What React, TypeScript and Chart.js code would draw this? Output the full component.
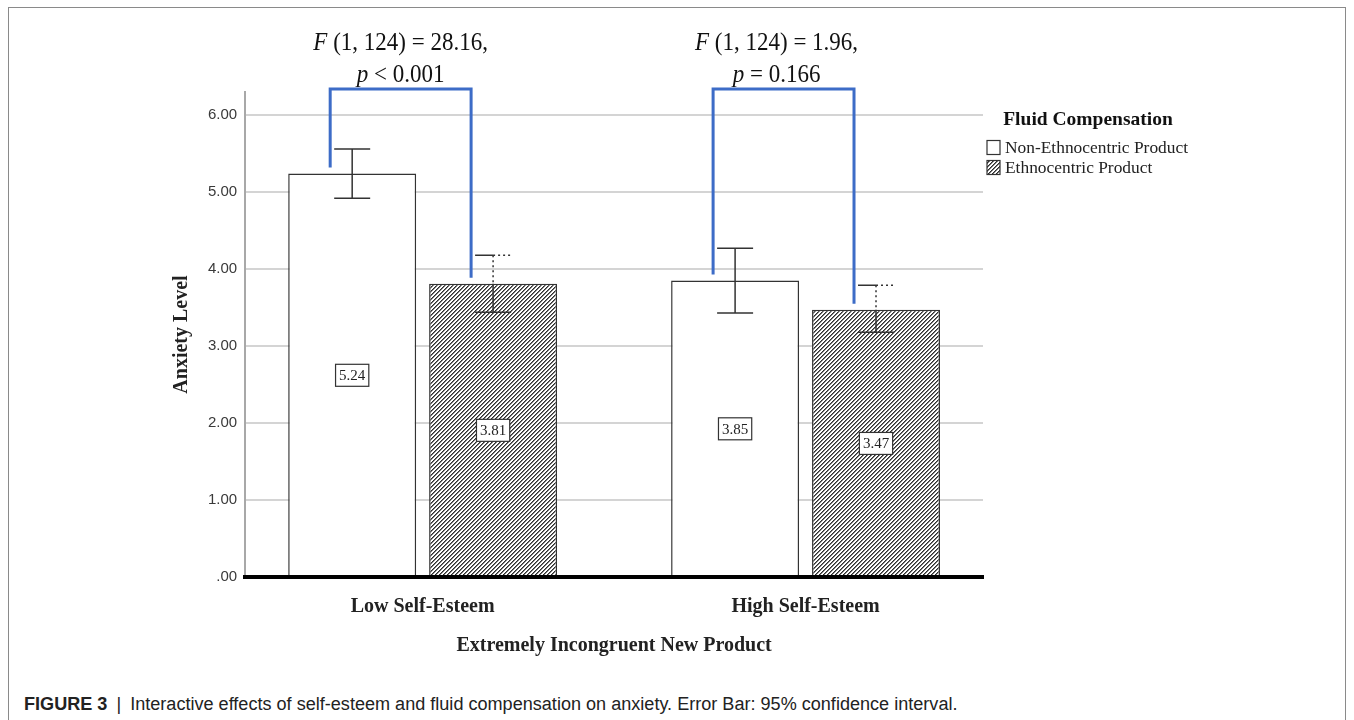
import React, { useEffect, useRef } from 'react';
import { Chart, registerables } from 'chart.js';

Chart.register(...registerables);

// ---------- data ----------
const categories = ['Low Self-Esteem', 'High Self-Esteem'];
const seriesNames = ['Non-Ethnocentric Product', 'Ethnocentric Product'];
const nonEthnoMeans = [5.24, 3.85];
const ethnoMeans = [3.81, 3.47];
const nonEthnoLow = [4.92, 3.43];
const nonEthnoHigh = [5.56, 4.27];
const ethnoLow = [3.44, 3.18];
const ethnoHigh = [4.18, 3.79];
const yTickValues = [0, 1, 2, 3, 4, 5, 6];
const yTickLabels = ['.00', '1.00', '2.00', '3.00', '4.00', '5.00', '6.00'];
const fStatLabels = [' (1, 124) = 28.16,', ' (1, 124) = 1.96,'];
const pStatLabels = [' < 0.001', ' = 0.166'];
const legendTitle = 'Fluid Compensation';
const xTitle = 'Extremely Incongruent New Product';
const yTitle = 'Anxiety Level';

const meansBySeries = [nonEthnoMeans, ethnoMeans];
const lowBySeries = [nonEthnoLow, ethnoLow];
const highBySeries = [nonEthnoHigh, ethnoHigh];

const SERIF = '"Liberation Serif", "Times New Roman", serif';
const SANS = '"Liberation Sans", Arial, sans-serif';

function makeHatch(ctx: CanvasRenderingContext2D) {
  const c = document.createElement('canvas');
  c.width = 4;
  c.height = 4;
  const p = c.getContext('2d')!;
  p.fillStyle = '#ffffff';
  p.fillRect(0, 0, 4, 4);
  for (let x = 0; x < 4; x++) {
    for (let y = 0; y < 4; y++) {
      const m = (x + y) % 4;
      if (m === 0) {
        p.fillStyle = '#2e2e2e';
        p.fillRect(x, y, 1, 1);
      } else if (m === 1) {
        p.fillStyle = '#7a7a7a';
        p.fillRect(x, y, 1, 1);
      }
    }
  }
  return ctx.createPattern(c, 'repeat') as CanvasPattern;
}

function drawParts(
  ctx: CanvasRenderingContext2D,
  parts: [string, string][],
  cx: number,
  cy: number,
  sx: number,
) {
  let total = 0;
  const widths = parts.map(([t, f]) => {
    ctx.font = f;
    const w = ctx.measureText(t).width;
    total += w;
    return w;
  });
  ctx.save();
  ctx.translate(cx, cy);
  ctx.scale(sx, 1);
  let x = -total / 2;
  ctx.textBaseline = 'middle';
  ctx.textAlign = 'left';
  parts.forEach(([t, f], i) => {
    ctx.font = f;
    ctx.fillText(t, x, 0);
    x += widths[i];
  });
  ctx.restore();
}

const overlayPlugin = {
  id: 'overlay',
  afterDatasetsDraw(chart: any) {
    const ctx: CanvasRenderingContext2D = chart.ctx;
    const yScale = chart.scales.y;
    const hatch = chart.$hatch;

    // error bars + value labels
    chart.data.datasets.forEach((ds: any, di: number) => {
      const meta = chart.getDatasetMeta(di);
      meta.data.forEach((bar: any, i: number) => {
        const { x, y } = bar.getProps(['x', 'y'], true);
        const yHi = yScale.getPixelForValue(highBySeries[di][i]);
        const yLo = yScale.getPixelForValue(lowBySeries[di][i]);
        const half = 18;
        ctx.save();
        ctx.strokeStyle = '#333';
        ctx.lineWidth = 1.5;
        if (di === 0) {
          ctx.beginPath();
          ctx.moveTo(x, yHi);
          ctx.lineTo(x, yLo);
          ctx.moveTo(x - half, yHi);
          ctx.lineTo(x + half, yHi);
          ctx.moveTo(x - half, yLo);
          ctx.lineTo(x + half, yLo);
          ctx.stroke();
        } else {
          ctx.beginPath();
          ctx.moveTo(x - half, yHi);
          ctx.lineTo(x, yHi);
          ctx.moveTo(x, y);
          ctx.lineTo(x, yLo);
          ctx.moveTo(x - half, yLo);
          ctx.lineTo(x + half, yLo);
          ctx.stroke();
          ctx.setLineDash([2, 3]);
          ctx.beginPath();
          ctx.moveTo(x, yHi);
          ctx.lineTo(x + half, yHi);
          ctx.moveTo(x, yHi);
          ctx.lineTo(x, y);
          ctx.stroke();
          ctx.setLineDash([]);
        }
        ctx.restore();

        const ly = yScale.getPixelForValue(meansBySeries[di][i] / 2);
        const txt = meansBySeries[di][i].toFixed(2);
        ctx.save();
        ctx.font = `15px ${SERIF}`;
        const tw = ctx.measureText(txt).width;
        const bw = tw + 7;
        const bh = 22;
        ctx.fillStyle = '#fff';
        ctx.fillRect(x - bw / 2, ly - bh / 2, bw, bh);
        ctx.strokeStyle = '#333';
        ctx.lineWidth = 1.2;
        ctx.strokeRect(x - bw / 2, ly - bh / 2, bw, bh);
        ctx.fillStyle = '#222';
        ctx.textAlign = 'center';
        ctx.textBaseline = 'middle';
        ctx.fillText(txt, x, ly + 1);
        ctx.restore();
      });
    });

    // significance brackets + stats text
    const m0 = chart.getDatasetMeta(0).data;
    const m1 = chart.getDatasetMeta(1).data;
    const bracketTop = 81;
    categories.forEach((_, i) => {
      const a = m0[i].getProps(['x', 'y'], true);
      const b = m1[i].getProps(['x', 'y'], true);
      const xl = a.x - 22;
      const xr = b.x - 22;
      ctx.save();
      ctx.strokeStyle = '#3d6cc7';
      ctx.lineWidth = 3;
      ctx.beginPath();
      ctx.moveTo(xl, a.y - 6);
      ctx.lineTo(xl, bracketTop);
      ctx.lineTo(xr, bracketTop);
      ctx.lineTo(xr, b.y - 6);
      ctx.stroke();
      ctx.restore();

      const cx = (xl + xr) / 2 - (i === 0 ? 0 : 7);
      ctx.save();
      ctx.fillStyle = '#111';
      drawParts(
        ctx,
        [
          ['F', `italic 25px ${SERIF}`],
          [fStatLabels[i], `25px ${SERIF}`],
        ],
        cx,
        35,
        0.92,
      );
      drawParts(
        ctx,
        [
          ['p', `italic 25px ${SERIF}`],
          [pStatLabels[i], `25px ${SERIF}`],
        ],
        cx,
        67,
        0.92,
      );
      ctx.restore();
    });

    // legend
    ctx.save();
    ctx.fillStyle = '#111';
    ctx.font = `bold 19.5px ${SERIF}`;
    ctx.textAlign = 'center';
    ctx.textBaseline = 'middle';
    ctx.fillText(legendTitle, 1079, 112);
    const items = chart.data.datasets;
    items.forEach((ds: any, i: number) => {
      const cy = 139.5 + i * 20;
      ctx.fillStyle = i === 0 ? '#fff' : hatch;
      ctx.fillRect(978, cy - 7, 13, 14);
      ctx.strokeStyle = '#333';
      ctx.lineWidth = 1.2;
      ctx.strokeRect(978, cy - 7, 13, 14);
      ctx.fillStyle = '#222';
      ctx.font = `17.4px ${SERIF}`;
      ctx.textAlign = 'left';
      ctx.fillText(ds.label, 996, cy + 1);
    });
    ctx.restore();
  },
};

export default function App() {
  const canvasRef = useRef<HTMLCanvasElement | null>(null);
  const captionRef = useRef<HTMLDivElement | null>(null);

  useEffect(() => {
    const canvas = canvasRef.current!;
    const ctx = canvas.getContext('2d')!;
    const hatch = makeHatch(ctx);

    const chart: any = new Chart(ctx, {
      type: 'bar',
      data: {
        datasets: [
          {
            label: seriesNames[0],
            data: categories.map((_, i) => ({ x: i, y: nonEthnoMeans[i] })),
            backgroundColor: '#ffffff',
            borderColor: '#333333',
            borderWidth: 1.5,
          },
          {
            label: seriesNames[1],
            data: categories.map((_, i) => ({ x: i, y: ethnoMeans[i] })),
            backgroundColor: hatch,
            borderColor: '#333333',
            borderWidth: 1.5,
          },
        ],
      } as any,
      options: {
        responsive: false,
        animation: false,
        devicePixelRatio: 1,
        categoryPercentage: 0.736,
        barPercentage: 0.908,
        layout: { padding: { left: 161, right: 362, top: 84, bottom: 20 } },
        plugins: {
          legend: { display: false },
          tooltip: { enabled: false },
        },
        scales: {
          x: {
            type: 'linear',
            offset: false,
            min: -0.4634,
            max: 1.4634,
            afterBuildTicks: (s: any) => {
              s.ticks = categories.map((_, i) => ({ value: i }));
            },
            grid: { display: false, offset: false },
            border: { display: true, color: '#000', width: 4, z: 1 },
            ticks: {
              callback: (v: any) => categories[v],
              font: { family: SERIF, size: 20, weight: 'bold' },
              color: '#222',
              padding: 10,
              maxRotation: 0,
              autoSkip: false,
            },
            title: {
              display: true,
              text: xTitle,
              font: { family: SERIF, size: 20, weight: 'bold' },
              color: '#222',
              padding: { top: 5, bottom: 0 },
            },
          },
          y: {
            min: 0,
            max: 6.3,
            afterBuildTicks: (s: any) => {
              s.ticks = yTickValues.map((v) => ({ value: v }));
            },
            ticks: {
              callback: (v: any) => yTickLabels[yTickValues.indexOf(v)],
              font: { family: SANS, size: 15 },
              color: '#3a3a3a',
              padding: 8,
            },
            grid: {
              color: (c: any) => (c.tick && c.tick.value === 0 ? 'rgba(0,0,0,0)' : '#d4d4d4'),
              lineWidth: 2,
              drawTicks: false,
            },
            border: { color: '#a8a8a8', width: 2 },
            title: {
              display: true,
              text: yTitle,
              font: { family: SERIF, size: 20, weight: 'bold' },
              color: '#222',
              padding: { top: 0, bottom: 6 },
            },
          },
        },
      } as any,
      plugins: [overlayPlugin],
    });
    chart.$hatch = hatch;
    chart.draw();

    const cap = captionRef.current;
    if (cap) {
      const w = cap.scrollWidth;
      if (w > 0) cap.style.transform = `scaleX(${933 / w})`;
    }

    return () => {
      chart.destroy();
    };
  }, []);

  return (
    <div
      style={{
        position: 'fixed',
        left: 8,
        top: 7,
        width: 1336,
        height: 760,
        border: '1px solid #8a8a8a',
        background: '#fff',
      }}
    >
      <canvas ref={canvasRef} width={1336} height={670} style={{ display: 'block' }} />
      <div
        ref={captionRef}
        style={{
          position: 'absolute',
          left: 15,
          top: 685,
          fontFamily: SANS,
          fontSize: 18,
          lineHeight: '22px',
          color: '#222',
          whiteSpace: 'nowrap',
          display: 'inline-block',
          transformOrigin: 'left center',
        }}
      >
        <b>FIGURE 3</b> <span style={{ fontWeight: 300, margin: '0 4px' }}>|</span> Interactive effects of
        self-esteem and fluid compensation on anxiety. Error Bar: 95% confidence interval.
      </div>
    </div>
  );
}
